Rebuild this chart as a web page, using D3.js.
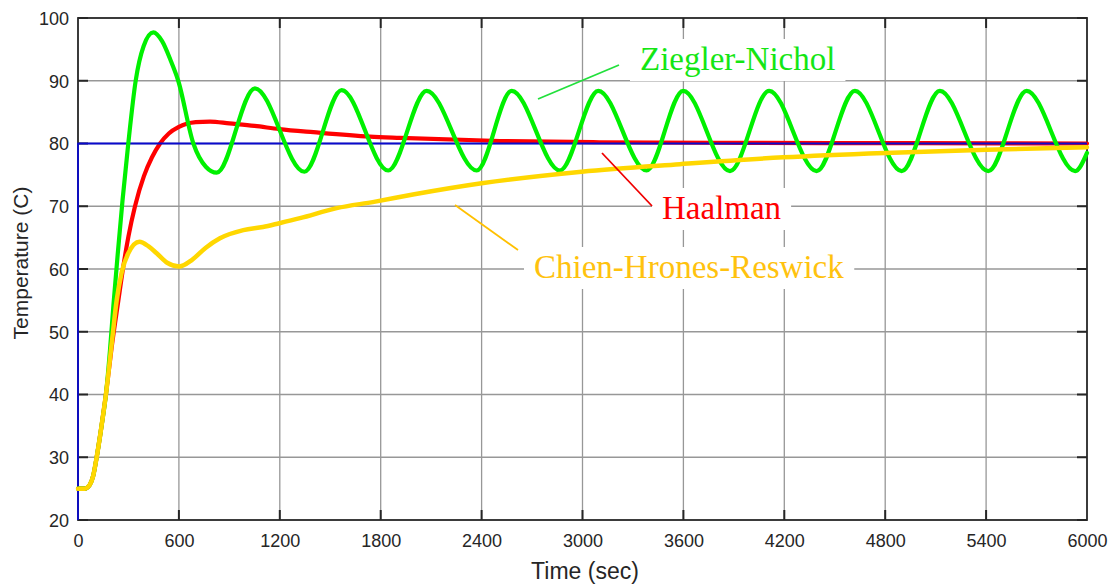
<!DOCTYPE html>
<html>
<head>
<meta charset="utf-8">
<script src="https://cdn.jsdelivr.net/npm/d3@7"></script>
<style>
  html, body { margin: 0; padding: 0; background: #fff; }
  svg { display: block; }
</style>
</head>
<body>
<svg id="chart" width="1119" height="588"></svg>
<script>
// Axis ticks
const timeTicks = [0, 600, 1200, 1800, 2400, 3000, 3600, 4200, 4800, 5400, 6000];
const tempTicks = [20, 30, 40, 50, 60, 70, 80, 90, 100];

// Set point (step to 80 C at t = 0)
const setpointTime = [0, 0, 6000];
const setpointTemp = [0, 80, 80];

// Ziegler-Nichol response
const zieglerTime = [0, 40, 70, 90, 111, 140, 166, 190, 210, 235, 265, 299, 343, 390, 448, 500, 550, 596, 686, 760, 825,
  1052, 1346, 1568, 1845, 2073, 2371, 2579, 2866, 3094, 3381, 3599, 3877, 4110, 4392, 4620, 4898, 5125, 5413, 5641, 5930, 6000];
const zieglerTemp = [25, 25, 25.6, 27, 30, 35, 40, 47, 54, 62, 71, 80, 90, 95.5, 97.7, 96.3, 93.3, 90, 80, 76.3, 75.35,
  88.8, 75.5, 88.5, 75.7, 88.4, 75.7, 88.4, 75.7, 88.4, 75.7, 88.4, 75.6, 88.4, 75.6, 88.4, 75.6, 88.4, 75.6, 88.4, 75.6, 78.5];

// Haalman response
const haalmanTime = [0, 40, 70, 90, 111, 140, 166, 200, 240, 270, 300, 339, 392, 440, 488, 540, 597, 700, 785, 900, 1050,
  1197, 1400, 1736, 1915, 2509, 3100, 4000, 5000, 6000];
const haalmanTemp = [25, 25, 25.6, 27, 30, 35, 40, 47.5, 55, 60.5, 65.2, 70, 74.8, 77.8, 80, 81.6, 82.6, 83.4, 83.5, 83.2, 82.8,
  82.3, 81.8, 81.1, 80.9, 80.4, 80.2, 80.1, 80.05, 80];

// Chien-Hrones-Reswick response
const chrTime = [0, 40, 70, 90, 111, 140, 166, 200, 230, 260, 299, 365, 420, 468, 530, 602, 680, 760, 844, 983, 1100,
  1197, 1320, 1538, 1760, 2000, 2400, 2995, 3579, 4194, 4798, 5403, 6000];
const chrTemp = [25, 25, 25.6, 27, 30, 35, 40, 48, 55, 59.5, 62.5, 64.35, 63.6, 62.5, 61, 60.4, 61.5, 63.4, 64.9, 66.2, 66.7,
  67.3, 68.1, 69.7, 70.7, 71.9, 73.65, 75.5, 76.7, 77.8, 78.5, 79.0, 79.4];

const svg = d3.select("#chart");
const plot = { left: 78, right: 1087, top: 18, bottom: 520 };

const x = d3.scaleLinear().domain([0, 6000]).range([plot.left, plot.right]);
const y = d3.scaleLinear().domain([20, 100]).range([plot.bottom, plot.top]);

const axisColor = "#262626";
const labelFont = "'Liberation Sans', Arial, sans-serif";
const noteFont = "'Liberation Serif', 'Times New Roman', serif";

svg.append("rect").attr("width", 1119).attr("height", 588).attr("fill", "#fff");

svg.append("defs").append("clipPath").attr("id", "plotClip")
  .append("rect")
  .attr("x", plot.left - 4).attr("y", plot.top)
  .attr("width", plot.right - plot.left + 8).attr("height", plot.bottom - plot.top);

// Grid
const grid = svg.append("g").attr("stroke", "#979797").attr("stroke-width", 1.3);
grid.selectAll("line.v").data(timeTicks.slice(1, -1)).join("line")
  .attr("x1", d => x(d)).attr("x2", d => x(d))
  .attr("y1", plot.top).attr("y2", plot.bottom);
grid.selectAll("line.h").data(tempTicks.slice(1, -1)).join("line")
  .attr("y1", d => y(d)).attr("y2", d => y(d))
  .attr("x1", plot.left).attr("x2", plot.right);

// Annotation text with white backgrounds
const notes = [
  { text: "Ziegler-Nichol", color: "#14e614", px: 640, py: 70 },
  { text: "Haalman", color: "#ff0000", px: 662, py: 219 },
  { text: "Chien-Hrones-Reswick", color: "#ffc20e", px: 534, py: 278 }
];
const noteLayer = svg.append("g");

// Axes frame (data is drawn above it)
const xAxisBottom = d3.axisBottom(x).tickValues(timeTicks).tickSize(0).tickPadding(0).tickFormat(d3.format("d"));
const yAxisLeft = d3.axisLeft(y).tickValues(tempTicks).tickSize(0).tickFormat(d3.format("d"));

const gx = svg.append("g").attr("transform", `translate(0,${plot.bottom})`).call(xAxisBottom);
gx.select(".domain").remove();
gx.selectAll("text").attr("y", 27).attr("dy", 0)
  .attr("font-family", labelFont).attr("font-size", 18).attr("fill", axisColor);

const gy = svg.append("g").attr("transform", `translate(${plot.left},0)`).call(yAxisLeft);
gy.select(".domain").remove();
gy.selectAll("text").attr("x", -9).attr("dy", "0.36em")
  .attr("font-family", labelFont).attr("font-size", 18).attr("fill", axisColor);

const frame = svg.append("g").attr("stroke", axisColor).attr("fill", "none");
frame.append("rect")
  .attr("x", plot.left).attr("y", plot.top)
  .attr("width", plot.right - plot.left).attr("height", plot.bottom - plot.top)
  .attr("stroke-width", 1.8);

// Inward tick marks on all four sides
const tickLen = 10;
frame.selectAll("line.tb").data(timeTicks.slice(1, -1)).join("line")
  .attr("x1", d => x(d)).attr("x2", d => x(d))
  .attr("y1", plot.bottom).attr("y2", plot.bottom - tickLen).attr("stroke-width", 2);
frame.selectAll("line.tt").data(timeTicks.slice(1, -1)).join("line")
  .attr("x1", d => x(d)).attr("x2", d => x(d))
  .attr("y1", plot.top).attr("y2", plot.top + tickLen).attr("stroke-width", 2);
frame.selectAll("line.tl").data(tempTicks).join("line")
  .attr("x1", plot.left).attr("x2", plot.left + tickLen)
  .attr("y1", d => y(d)).attr("y2", d => y(d)).attr("stroke-width", 2);
frame.selectAll("line.tr").data(tempTicks).join("line")
  .attr("x1", plot.right).attr("x2", plot.right - tickLen)
  .attr("y1", d => y(d)).attr("y2", d => y(d)).attr("stroke-width", 2);

// Response curves
const curves = svg.append("g").attr("clip-path", "url(#plotClip)").attr("fill", "none")
  .attr("stroke-linejoin", "round").attr("stroke-linecap", "round");
const smooth = d3.line().x(d => x(d[0])).y(d => y(d[1])).curve(d3.curveMonotoneX);
const straight = d3.line().x(d => x(d[0])).y(d => y(d[1]));
const zip = (a, b) => a.map((v, i) => [v, b[i]]);

curves.append("path").attr("d", smooth(zip(haalmanTime, haalmanTemp)))
  .attr("stroke", "#ff0000").attr("stroke-width", 4.2);
curves.append("path").attr("d", straight(zip(setpointTime, setpointTemp)))
  .attr("stroke", "#0a0acd").attr("stroke-width", 1.8).attr("stroke-linecap", "butt");
curves.append("path").attr("d", smooth(zip(zieglerTime, zieglerTemp)))
  .attr("stroke", "#00f000").attr("stroke-width", 4.2);
curves.append("path").attr("d", smooth(zip(chrTime, chrTemp)))
  .attr("stroke", "#ffd700").attr("stroke-width", 4.5);

// Annotation labels and leader lines
notes.forEach(n => {
  const t = noteLayer.append("text")
    .attr("x", n.px).attr("y", n.py)
    .attr("font-family", noteFont).attr("font-size", 33)
    .attr("fill", n.color).text(n.text);
  const b = t.node().getBBox();
  noteLayer.insert("rect", "text")
    .attr("x", b.x - 10).attr("y", b.y - 2)
    .attr("width", b.width + 20).attr("height", b.height + 6)
    .attr("fill", "#fff");
});

const leaders = svg.append("g").attr("stroke-width", 1.8);
leaders.append("line").attr("x1", 538).attr("y1", 99).attr("x2", 619).attr("y2", 65).attr("stroke", "#22e03c");
leaders.append("line").attr("x1", 602).attr("y1", 153).attr("x2", 652).attr("y2", 206).attr("stroke", "#f00000");
leaders.append("line").attr("x1", 455).attr("y1", 205).attr("x2", 518).attr("y2", 250).attr("stroke", "#ffc000");

// Axis titles
svg.append("text")
  .attr("x", 585).attr("y", 579)
  .attr("text-anchor", "middle")
  .attr("font-family", labelFont).attr("font-size", 23).attr("fill", axisColor)
  .text("Time (sec)");
svg.append("text")
  .attr("transform", "translate(28,263) rotate(-90)")
  .attr("text-anchor", "middle")
  .attr("font-family", labelFont).attr("font-size", 21).attr("fill", axisColor)
  .text("Temperature (C)");
</script>
</body>
</html>
